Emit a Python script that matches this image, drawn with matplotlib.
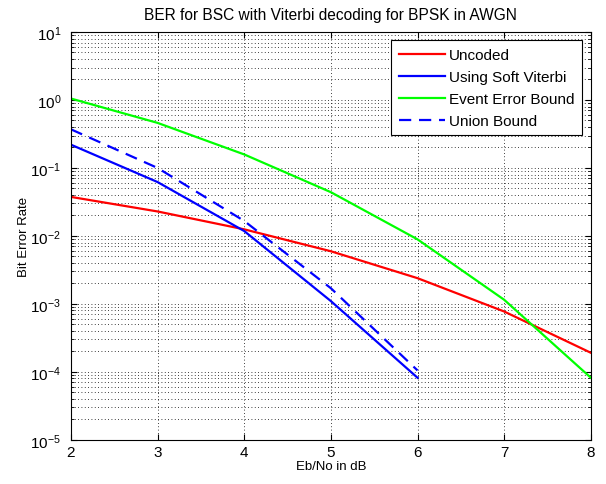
import matplotlib
matplotlib.use('Agg')
import matplotlib.pyplot as plt
from matplotlib.ticker import LogLocator, NullFormatter

# Eb/No in dB
ebno_all = [2, 3, 4, 5, 6, 7, 8]
ebno_vit = [2, 3, 4, 5, 6]

# values
uncoded = [3.75e-2, 2.29e-2, 1.25e-2, 5.95e-3, 2.39e-3, 7.73e-4, 1.91e-4]
soft_viterbi = [0.22, 0.062, 0.0118, 1.1e-3, 8.2e-5]
event_bound = [1.05, 0.46, 0.158, 0.044, 8.9e-3, 1.15e-3, 8.2e-5]
union_bound = [0.37, 0.10, 0.0166, 1.7e-3, 1.05e-4]

decades = [1e-5, 1e-4, 1e-3, 1e-2, 1e-1, 1e0, 1e1]

plt.rcParams['font.family'] = ['Liberation Sans', 'DejaVu Sans']
plt.rcParams['font.size'] = 9
plt.rcParams['mathtext.fontset'] = 'custom'
plt.rcParams['mathtext.rm'] = 'Liberation Sans'
plt.rcParams['mathtext.it'] = 'Liberation Sans'

fig = plt.figure(figsize=(6.06, 4.85), dpi=100)
ax = fig.add_axes([0.117, 0.091, 0.858, 0.841])

ax.semilogy(ebno_all, uncoded, color='#ff0000', lw=1.6, label='Uncoded')
ax.semilogy(ebno_vit, soft_viterbi, color='#0000ff', lw=1.6, label='Using Soft Viterbi')
ax.semilogy(ebno_all, event_bound, color='#00ff00', lw=1.6, label='Event Error Bound')
ax.semilogy(ebno_vit, union_bound, color='#0000ff', lw=1.6, ls=(0, (5.5, 3.5)), label='Union Bound')

ax.set_xlim(2, 8)
ax.set_ylim(1e-5, 1e1)
ax.set_xticks([2, 3, 4, 5, 6, 7, 8])
ax.set_yticks(decades)
ax.yaxis.set_minor_locator(LogLocator(base=10, subs=range(2, 10), numticks=10))
ax.yaxis.set_minor_formatter(NullFormatter())

ax.grid(True, which='major', axis='both', color='black', ls=(0, (1, 3)), lw=0.6)
ax.grid(True, which='minor', axis='y', color='black', ls=(0, (1, 3)), lw=0.6)
ax.tick_params(which='both', direction='in', top=True, right=True, labelsize=11)
ax.tick_params(which='major', length=4)
ax.tick_params(which='minor', length=2)
ax.tick_params(axis='y', which='major', pad=7)

ax.set_xlabel('Eb/No in dB', fontsize=9.5, labelpad=1)
ax.set_ylabel('Bit Error Rate', fontsize=9.5, labelpad=0)
ax.set_title('BER for BSC with Viterbi decoding for BPSK in AWGN', fontsize=11.2, pad=9)

leg = ax.legend(loc='upper right', fancybox=False, framealpha=1, edgecolor='black',
                fontsize=11, handlelength=3.0, borderaxespad=0.55, labelspacing=0.52,
                handletextpad=0.3, borderpad=0.5)
leg.get_frame().set_linewidth(0.8)

plt.savefig('out.png', dpi=100)
